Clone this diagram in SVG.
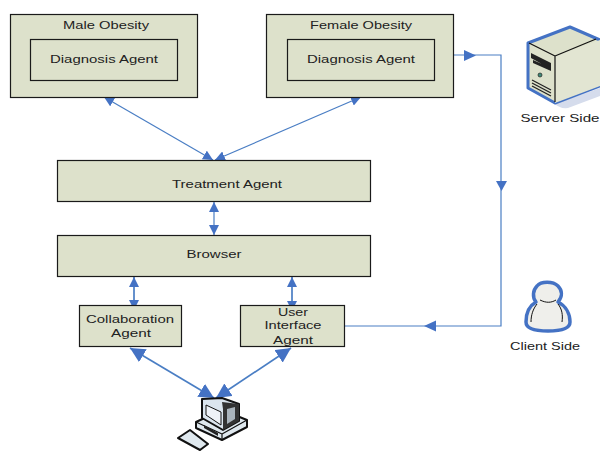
<svg xmlns="http://www.w3.org/2000/svg" width="600" height="451" viewBox="0 0 600 451">
<style>
.box{fill:#dde1cb;stroke:#1a1a1a;stroke-width:1.2}
.t{font-family:"Liberation Sans",Arial,sans-serif;font-size:11.5px;fill:#222;text-anchor:middle}
.c{fill:none;stroke:#4a7ec4;stroke-width:1.2}
.v{stroke-width:1.7}
.o{stroke:#111;stroke-width:1.2;stroke-linejoin:round}
.k{stroke:#111;stroke-width:2;stroke-linejoin:round}
</style>
<defs>
<marker id="a" viewBox="0 0 10 10" refX="10" refY="5" markerWidth="10" markerHeight="10" markerUnits="userSpaceOnUse" orient="auto-start-reverse"><path d="M0 0L10 5L0 10Z" fill="#4472c4"/></marker>
<marker id="b" viewBox="0 0 10 10" refX="10" refY="5" markerWidth="15" markerHeight="15" markerUnits="userSpaceOnUse" orient="auto-start-reverse"><path d="M0 0L10 5L0 10Z" fill="#4472c4"/></marker>
</defs>
<g id="connectors">
<path class="c" d="M104 97L213 160" marker-start="url(#a)" marker-end="url(#a)"/>
<path class="c" d="M361 97L215 160" marker-start="url(#a)" marker-end="url(#a)"/>
<path class="c" d="M214 202V235" marker-start="url(#a)" marker-end="url(#a)"/>
<path class="c v" d="M134 277V310" marker-start="url(#a)" marker-end="url(#a)"/>
<path class="c v" d="M292 277V311" marker-start="url(#a)" marker-end="url(#a)"/>
<path class="c v" d="M130 348L214 398" marker-start="url(#b)" marker-end="url(#b)"/>
<path class="c v" d="M291 348L216 398" marker-start="url(#b)" marker-end="url(#b)"/>
<path class="c" d="M454 55H501V326H345"/>
<path d="M464 50L476 55.500L464 61Z" fill="#4472c4"/>
<path d="M496 181H507L501.500 191Z" fill="#4472c4"/>
<path d="M436 320.500V331.500L424 326Z" fill="#4472c4"/>
</g>
<g id="male-obesity"><rect class="box" x="10.500" y="14.500" width="187" height="83"/><text class="t" x="106" y="29" textLength="86" lengthAdjust="spacingAndGlyphs">Male Obesity</text></g>
<g id="male-diagnosis"><rect class="box" x="30.500" y="39.500" width="147" height="41"/><text class="t" x="104" y="63" textLength="108" lengthAdjust="spacingAndGlyphs">Diagnosis Agent</text></g>
<g id="female-obesity"><rect class="box" x="266.500" y="14.500" width="187" height="83"/><text class="t" x="361" y="29" textLength="102" lengthAdjust="spacingAndGlyphs">Female Obesity</text></g>
<g id="female-diagnosis"><rect class="box" x="287.500" y="39.500" width="147" height="41"/><text class="t" x="361" y="63" textLength="108" lengthAdjust="spacingAndGlyphs">Diagnosis Agent</text></g>
<g id="treatment"><rect class="box" x="57.500" y="160.500" width="313" height="41"/><text class="t" x="227" y="188" textLength="110" lengthAdjust="spacingAndGlyphs">Treatment Agent</text></g>
<g id="browser"><rect class="box" x="57.500" y="235.500" width="313" height="41"/><text class="t" x="214" y="258" textLength="55" lengthAdjust="spacingAndGlyphs">Browser</text></g>
<g id="collaboration"><rect class="box" x="79.500" y="305.500" width="102" height="41"/><text class="t" x="130" y="323" textLength="88" lengthAdjust="spacingAndGlyphs">Collaboration</text><text class="t" x="131" y="337" textLength="40" lengthAdjust="spacingAndGlyphs">Agent</text></g>
<g id="ui"><rect class="box" x="240.500" y="305.500" width="104" height="41"/><text class="t" x="293" y="316" textLength="30" lengthAdjust="spacingAndGlyphs">User</text><text class="t" x="293" y="329" textLength="57" lengthAdjust="spacingAndGlyphs">Interface</text><text class="t" x="293" y="344" textLength="40" lengthAdjust="spacingAndGlyphs">Agent</text></g>
<g id="server">
<path d="M555 104L600 88V96L568 108Q560 109 555 104Z" fill="#d5dcec"/>
<path d="M528 43L570 27L600 40V86L555 103L528 88Z" fill="#dde1cb" stroke="#4472c4" stroke-width="3" stroke-linejoin="round"/>
<path d="M555 56L600 40V86L555 103Z" fill="#e2e5d2"/>
<path class="o" d="M529 43L555 56L596 39M555 56V102" fill="none"/>
<path d="M531 53L551 63V69L531 58ZM533 60L551 68V71L533 63Z" fill="#222"/>
<path d="M532 80L551 90M532 83L551 93M532 86L551 96" stroke="#222" stroke-width="1.300" fill="none"/>
<circle cx="540" cy="75" r="2" fill="#3f8a78" stroke="#222" stroke-width=".7"/>
<text class="t" x="560" y="122" textLength="79" lengthAdjust="spacingAndGlyphs">Server  Side</text>
</g>
<g id="client">
<path d="M536 302C529 306 526 314 526 322C526 329 536 331 548 331C560 331 570 329 570 322C570 314 566 306 558 302C563 296 562 290 558 286C553 281 541 281 537 286C533 290 532 297 536 302Z" fill="#efefeb" stroke="#4472c4" stroke-width="3.500" stroke-linejoin="round"/>
<path d="M540 300C546 303 551 303 556 300M531 322C531 315 533 309 537 304M562 322C563 315 562 309 558 304" fill="none" stroke="#111"/>
<text class="t" x="545" y="350" textLength="70" lengthAdjust="spacingAndGlyphs">Client Side</text>
</g>
<g id="computer">
<path class="k" d="M178 438L190 430L208 444L200 450Z" fill="#dfe8ee"/>
<path class="k" d="M196 422L222 410L247 420V427L222 440L196 428Z" fill="#dfe8ee"/>
<path class="o" d="M196 422L222 434L247 420M222 434V440" fill="none"/>
<path d="M204 428L218 436L218 433L204 425Z" fill="#222"/>
<path class="k" d="M202 399L222 398L239 404V421L223 430L202 418Z" fill="#dbe5ee"/>
<path d="M222 402L239 404V421L223 430V409Z" fill="#333"/>
<path d="M227 409L235 407V419L227 424Z" fill="#aab4bc"/>
<path d="M206 405L221 412V425L206 415Z" fill="#eef2f7" stroke="#111"/>
</g>
</svg>
